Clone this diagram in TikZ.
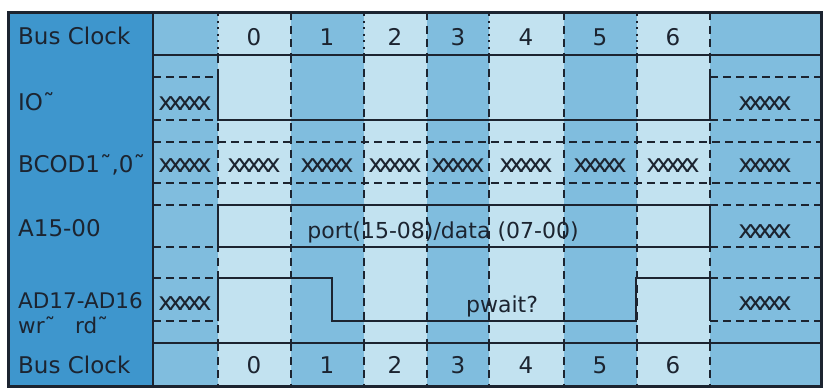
\documentclass[tikz,border=0pt]{standalone}
\usepackage{fontspec}
\setmainfont{DejaVu Sans}
\definecolor{ink}{HTML}{1C2430}
\definecolor{labelblue}{HTML}{3E96CD}
\definecolor{midblue}{HTML}{80BDDE}
\definecolor{lightblue}{HTML}{C2E2F0}
\newcommand{\xfive}{x\kern-5.2pt x\kern-5.2pt x\kern-5.2pt x\kern-5.2pt x}
\begin{document}
\begin{tikzpicture}[x=1pt,y=-1pt,
  gridline/.style={line width=1.5pt, dash pattern=on 8pt off 5.5pt, color=ink},
  dotline/.style={line width=2pt, dash pattern=on 2pt off 4.5pt, color=ink},
  sig/.style={line width=2pt, color=ink},
  dsig/.style={line width=1.9pt, dash pattern=on 8pt off 5pt, color=ink},
  lbl/.style={anchor=base west, inner sep=0pt, text=ink, font=\fontsize{23}{25}\selectfont},
  num/.style={anchor=base, inner sep=0pt, text=ink, font=\fontsize{23}{25}\selectfont},
  xx/.style={anchor=base, inner sep=0pt, text=ink, font=\fontsize{25}{27}\selectfont},
  sigtext/.style={anchor=base, inner sep=0pt, text=ink, font=\fontsize{22}{24}\selectfont}]
\useasboundingbox (0,0) rectangle (826,391);
\fill[white] (0,0) rectangle (826,391);
% column shading
\fill[labelblue] (8,12) rectangle (153,386);
\fill[midblue] (153,12) rectangle (218,386);
\fill[lightblue] (218,12) rectangle (291,386);
\fill[midblue] (291,12) rectangle (364,386);
\fill[lightblue] (364,12) rectangle (427,386);
\fill[midblue] (427,12) rectangle (489,386);
\fill[lightblue] (489,12) rectangle (564,386);
\fill[midblue] (564,12) rectangle (637,386);
\fill[lightblue] (637,12) rectangle (710,386);
\fill[midblue] (710,12) rectangle (821,386);
% grid lines
\foreach \x in {218,291,364,427,489,564,637,710}{
  \draw[gridline] (\x,55) -- (\x,343);
  \draw[gridline] (\x,343) -- (\x,386);
}
\foreach \x in {218,364,489,637} \draw[dotline] (\x,14) -- (\x,55);
\foreach \x in {291,427,564,710} \draw[gridline] (\x,12) -- (\x,55);
\draw[sig] (153,55) -- (821,55);
\draw[sig] (153,343) -- (821,343);
% IO
\draw[dsig] (153,77) -- (218,77) (153,120) -- (218,120);
\draw[sig] (218,77) -- (218,120) -- (710,120) -- (710,77);
\draw[dsig] (710,77) -- (821,77) (710,120) -- (821,120);
% BCOD
\draw[dsig] (153,142) -- (821,142) (153,183) -- (821,183);
% A15
\draw[dsig] (153,205) -- (218,205) (153,247) -- (218,247);
\draw[sig] (218,205) -- (218,247) (218,205) -- (710,205) (218,247) -- (710,247) (710,205) -- (710,247);
\draw[dsig] (710,205) -- (821,205) (710,247) -- (821,247);
% AD17
\draw[dsig] (153,278) -- (218,278) (153,321) -- (218,321);
\draw[sig] (218,321) -- (218,278) -- (332,278) -- (332,321) -- (636,321) -- (636,278) -- (710,278) -- (710,321);
\draw[dsig] (710,278) -- (821,278) (710,321) -- (821,321);
% frame
\draw[line width=2pt, color=ink] (153,12) -- (153,386);
\draw[line width=3pt, color=ink] (8,12) rectangle (821,386);
% labels
\node[lbl] (l1) at (18,44) {Bus Clock};
\node[lbl] (l2) at (18,110) {IO˜};
\node[lbl] (l3) at (18,172) {BCOD1˜,0˜};
\node[lbl] (l4) at (18,236) {A15-00};
\node[lbl, font=\fontsize{21.5}{24}\selectfont] (l5) at (18,308) {AD17-AD16};
\node[lbl, font=\fontsize{21.5}{24}\selectfont] (l6) at (18,333) {wr˜};
\node[lbl, font=\fontsize{21.5}{24}\selectfont] (l7) at (75,333) {rd˜};
\node[lbl] (l8) at (18,373) {Bus Clock};
% clock numbers
\foreach \c/\n in {254/0,327/1,395/2,458/3,526/4,600/5,673/6}{
  \node[num] (t\n) at (\c,45) {\n};
  \node[num] (b\n) at (\c,373) {\n};
}
% xxxxx
\node[xx] (x1) at (185,110) {\xfive};
\node[xx] (x2) at (765,110) {\xfive};
\foreach \c [count=\i] in {185,254,327,395,458,526,600,673,765}
  \node[xx] (bc\i) at (\c,172) {\xfive};
\node[xx] (x3) at (765,238) {\xfive};
\node[xx] (x4) at (185,310) {\xfive};
\node[xx] (x5) at (765,310) {\xfive};
% signal texts
\node[sigtext] (pd) at (443,238) {port(15-08)/data (07-00)};
\node[sigtext] (pw) at (502,312) {pwait?};
\end{tikzpicture}
\end{document}
